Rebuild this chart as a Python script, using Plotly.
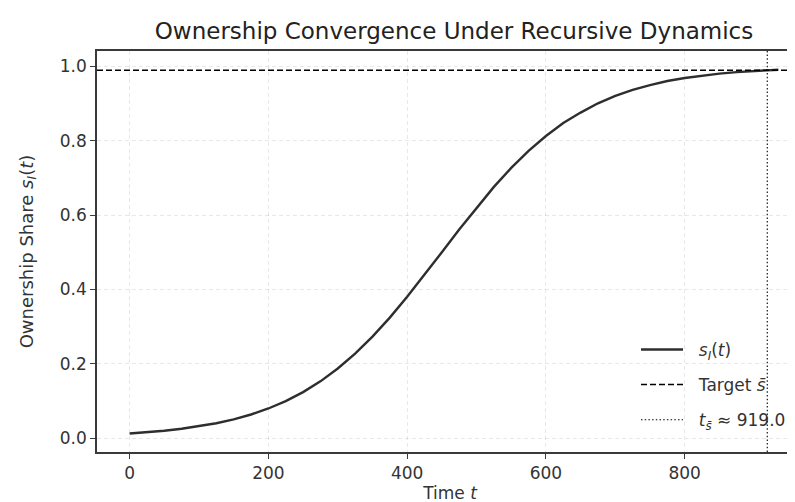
import plotly.graph_objects as go

# Data
time_t = [0, 25, 50, 75, 100, 125, 150, 175, 200, 225, 250, 275, 300, 325, 350,
          375, 400, 425, 450, 475, 500, 525, 550, 575, 600, 625, 650, 675, 700,
          725, 750, 775, 800, 825, 850, 875, 900, 925, 935]
share = [0.012, 0.0153, 0.0195, 0.0248, 0.0314, 0.0397, 0.0503, 0.0633, 0.0794,
         0.0993, 0.1235, 0.1525, 0.187, 0.227, 0.273, 0.324, 0.380, 0.439, 0.500,
         0.561, 0.620, 0.676, 0.727, 0.773, 0.813, 0.848, 0.876, 0.901, 0.921,
         0.937, 0.950, 0.961, 0.969, 0.976, 0.981, 0.985, 0.988, 0.9906, 0.9914]
target = 0.99
t_hit = 919.0
x_ticks = [0, 200, 400, 600, 800]
y_ticks = [0.0, 0.2, 0.4, 0.6, 0.8, 1.0]
x_range = [-47, 970.5]
y_range = [-0.0377, 1.0418]

FONT = "DejaVu Sans"
TXT = "#333333"
GAP = "&nbsp;&nbsp;"
fig = go.Figure()

fig.add_trace(go.Scatter(x=time_t, y=share, mode="lines",
                         line=dict(color="#2e2e2e", width=2.4),
                         name=GAP + "<i>s</i><sub><i>I</i></sub>(<i>t</i>)", legendgroup="a"))
fig.add_trace(go.Scatter(x=x_range, y=[target, target], mode="lines",
                         line=dict(color="black", width=1.5, dash="6px,3px"),
                         name=GAP + "Target <i>s̄</i>", legendgroup="b"))
fig.add_trace(go.Scatter(x=[t_hit, t_hit], y=y_range, mode="lines",
                         line=dict(color="black", width=1.1, dash="1.5px,2.2px"),
                         name=GAP + "<i>t</i><sub><i>s̄</i></sub> ≈ %.1f" % t_hit, legendgroup="c"))

grid = dict(showgrid=True, gridcolor="rgba(0,0,0,0.09)", griddash="4px,3px",
            gridwidth=1, zeroline=False, showline=True, linecolor="#3a3a3a",
            linewidth=1.5, ticks="outside", ticklen=5, tickcolor="#3a3a3a",
            automargin=False,
            tickfont=dict(family=FONT, size=17, color=TXT))

fig.update_xaxes(range=x_range, tickvals=x_ticks, mirror=True,
                 title=dict(text="Time <i>t</i>", font=dict(family=FONT, size=17, color=TXT),
                            standoff=2), **grid)
fig.update_yaxes(range=y_range, tickvals=y_ticks, tickformat=".1f",
                 title=dict(text="Ownership Share <i>s</i><sub><i>I</i></sub>(<i>t</i>)",
                            font=dict(family=FONT, size=18, color=TXT), standoff=22), **grid)

fig.update_layout(
    width=795, height=502,
    margin=dict(l=89, r=0, t=43, b=58),
    paper_bgcolor="white", plot_bgcolor="white",
    title=dict(text="Ownership Convergence Under Recursive Dynamics",
               x=0.5 * (89 + 803) / 795, xanchor="center", yref="container",
               y=1 - 23 / 502, yanchor="middle", automargin=False,
               font=dict(family=FONT, size=23, color="#222")),
    legend=dict(x=(628 - 89) / 706, y=0.035, xanchor="left", yanchor="bottom",
                bgcolor="rgba(255,255,255,0)", borderwidth=0,
                font=dict(family=FONT, size=17, color=TXT),
                tracegroupgap=10, itemwidth=42),
    showlegend=True,
)

fig.write_html("out.html")
